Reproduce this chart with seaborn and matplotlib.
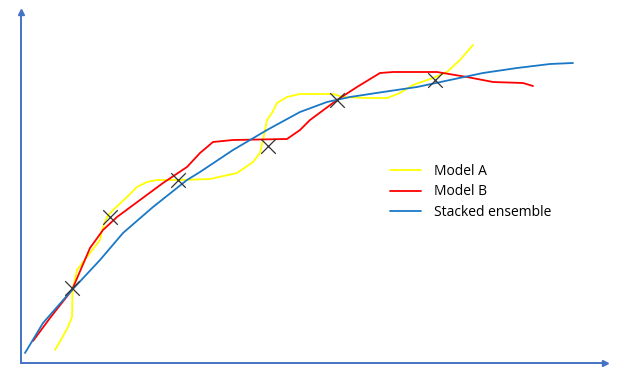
import pandas as pd
import matplotlib.pyplot as plt
import seaborn as sns

# Values (x to the right, y upward)
model_a_x = [55, 62, 68, 72, 72.5, 77, 90, 100, 102, 107, 113, 127, 137, 147, 157, 180, 210, 237,
             253, 260, 263, 267, 272, 277, 287, 300, 333, 343, 367, 387, 400, 413, 433, 447, 460, 473]
model_a_y = [35, 47, 58, 68, 95, 115, 132, 145, 155, 168, 175, 188, 198, 203, 205, 205, 206, 212,
             223, 232, 245, 265, 272, 282, 288, 291, 291, 288, 287, 287, 292, 300, 307, 313, 325, 340]

model_b_x = [33, 50, 72, 90, 103, 117, 140, 163, 187, 200, 213, 233, 287, 300, 310, 337, 357, 380,
             393, 437, 467, 493, 523, 533]
model_b_y = [44, 67, 95, 137, 155, 168, 185, 202, 218, 232, 243, 245, 246, 255, 265, 285, 298, 312,
             313, 313, 308, 303, 302, 299]

stacked_x = [25, 43, 72, 100, 123, 153, 187, 200, 233, 267, 300, 327, 350, 383, 417, 450, 483,
             517, 550, 573]
stacked_y = [32, 62, 95, 125, 152, 178, 205, 213, 235, 255, 273, 283, 288, 293, 298, 305, 312,
             317, 321, 322]

# crossing points marked with X
cross_x = [72, 110, 178, 268, 337, 435]
cross_y = [97, 168, 205, 239, 285, 305]

series_names = ['Model A', 'Model B', 'Stacked ensemble']
series_colors = ['#FFFF00', '#FF0000', '#1A78C6']

frames = []
for name, xs, ys in zip(series_names,
                        [model_a_x, model_b_x, stacked_x],
                        [model_a_y, model_b_y, stacked_y]):
    frames.append(pd.DataFrame({'x': xs, 'y': ys, 'series': name}))
df = pd.concat(frames, ignore_index=True)

sns.set_style('white')
fig = plt.figure(figsize=(6.2, 3.85), dpi=100)
ax = fig.add_axes([21 / 620, 22 / 385, 584 / 620, 351 / 385])

sns.lineplot(data=df, x='x', y='y', hue='series', hue_order=series_names,
             palette=series_colors, estimator=None, sort=False, linewidth=1.3, ax=ax)
sns.scatterplot(x=cross_x, y=cross_y, marker='x', s=110, color='#333333',
                linewidth=0.9, ax=ax, legend=False, zorder=5)

ax.set_xlim(21, 605)
ax.set_ylim(22, 373)
ax.set_xticks([])
ax.set_yticks([])
ax.set_xlabel('')
ax.set_ylabel('')
for side in ['top', 'right']:
    ax.spines[side].set_visible(False)
for side in ['left', 'bottom']:
    ax.spines[side].set_color('#4472C4')
    ax.spines[side].set_linewidth(1.4)

# arrow heads on the axes
ax.plot(1, 0, '>', color='#4472C4', markersize=4, transform=ax.transAxes, clip_on=False)
ax.plot(0, 1, '^', color='#4472C4', markersize=4, transform=ax.transAxes, clip_on=False)

leg = ax.legend(loc='center left', bbox_to_anchor=(390 / 620, 1 - 192 / 385),
                bbox_transform=fig.transFigure, frameon=False, borderpad=0,
                borderaxespad=0, handlelength=2.2, handletextpad=1.0, labelspacing=0.38,
                prop={'family': 'Open Sans', 'size': 10})
for line in leg.get_lines():
    line.set_linewidth(1.3)
for text in leg.get_texts():
    text.set_color('black')

fig.savefig('out.png', dpi=100)
